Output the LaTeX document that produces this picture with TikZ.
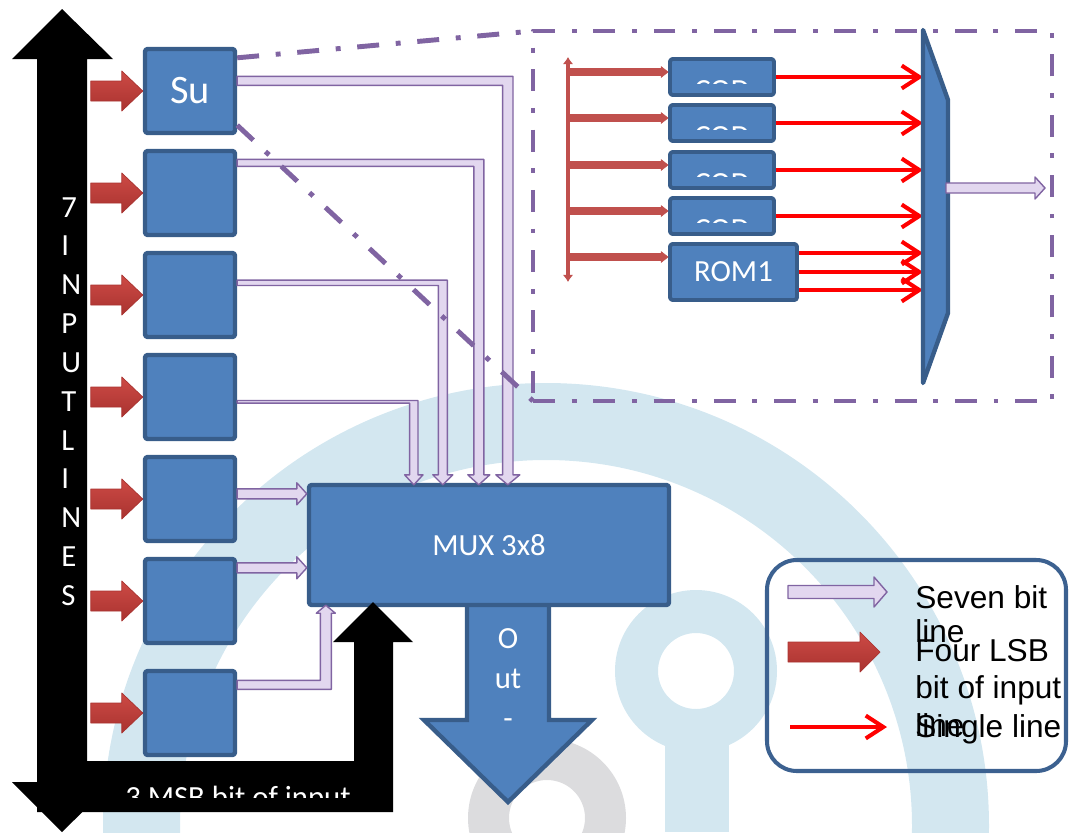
\documentclass[tikz,border=0pt]{standalone}
\usepackage{fontspec}
\setmainfont{Carlito}
\newfontfamily\legendfont{Liberation Sans}
\usetikzlibrary{arrows.meta,positioning,calc}
\definecolor{boxblue}{HTML}{4F81BD}
\definecolor{boxedge}{HTML}{385D8A}
\definecolor{lavfill}{HTML}{E2D7EF}
\definecolor{lavedge}{HTML}{8064A2}
\definecolor{redtop}{HTML}{CD4A45}
\definecolor{redbot}{HTML}{A93330}
\definecolor{busred}{HTML}{C0504D}
\definecolor{zoompurple}{HTML}{8064A2}
\definecolor{wmblue}{HTML}{D3E7F0}
\definecolor{wmgrey}{HTML}{DCDCDE}
\definecolor{legedge}{HTML}{3C6190}
\newdimen\pxu
\pxu=0.02cm
\pgfdeclarelayer{wm}
\pgfdeclarelayer{back}
\pgfsetlayers{wm,back,main}
% straight arrow to the right: style, start, tip, half shaft, half head, head length
\newcommand{\flatarrow}[6]{%
  \path[#1] ($(#2)+(0,-#4)$) -- ($(#3)+(-#6,-#4)$) -- ($(#3)+(-#6,-#5)$) -- (#3)
    -- ($(#3)+(-#6,#5)$) -- ($(#3)+(-#6,#4)$) -- ($(#2)+(0,#4)$) -- cycle;}
% right then down (1) or up (-1): style, start, tip, half horiz, half vert, half head, head length, dir
\newcommand{\bentarrow}[8]{%
  \path[#1] ($(#2)+(0,-#4)$)
    -- ($(#2 -| #3)+({(#8)*(#5)},-#4)$)
    -- ($(#3)+({(#8)*(#5)},{-1*(#8)*(#7)})$)
    -- ($(#3)+({(#8)*(#6)},{-1*(#8)*(#7)})$)
    -- (#3)
    -- ($(#3)+({-1*(#8)*(#6)},{-1*(#8)*(#7)})$)
    -- ($(#3)+({-1*(#8)*(#5)},{-1*(#8)*(#7)})$)
    -- ($(#2 -| #3)+({-1*(#8)*(#5)},#4)$)
    -- ($(#2)+(0,#4)$) -- cycle;}
% straight arrow downwards: style, start, tip, half shaft, half head, head length
\newcommand{\downblock}[6]{%
  \path[#1] ($(#2)+(-#4,0)$) -- ($(#3)+(-#4,-#6)$) -- ($(#3)+(-#5,-#6)$) -- (#3)
    -- ($(#3)+(#5,-#6)$) -- ($(#3)+(#4,-#6)$) -- ($(#2)+(#4,0)$) -- cycle;}

\begin{document}
\begin{tikzpicture}[x=0.02cm,y=-0.02cm,line join=round,
  cellbox/.style={draw=boxedge,fill=boxblue,line width=2.5pt,rounded corners=1.5pt,
    inner sep=0pt,minimum width=90*\pxu,minimum height=84*\pxu,text=white},
  codbox/.style={cellbox,line width=2.2pt,minimum width=104*\pxu,minimum height=36*\pxu},
  celltext/.style={text=white,font=\fontsize{17.5}{22}\selectfont},
  lavarrow/.style={fill=lavfill,draw=lavedge,line width=0.8pt},
  redblock/.style={top color=redtop,bottom color=redbot,draw=redbot,line width=0.4pt},
  busarrow/.style={fill=busred,draw=busred,line width=0.3pt},
  sigline/.style={draw=red,line width=2.3pt,-{Straight Barb[length=10pt,width=13pt]}},
  zoomline/.style={draw=zoompurple,line width=2.8pt,
    dash pattern=on 12.5pt off 9.5pt on 2.8pt off 9.5pt},
  zoomframe/.style={zoomline,minimum width=519*\pxu,minimum height=370*\pxu,
    inner sep=0pt,outer sep=0pt},
  trapmux/.style={fill=boxblue,draw=boxedge,line width=2.5pt},
  outarrow/.style={fill=boxblue,draw=boxedge,line width=2.5pt},
  legendbox/.style={draw=legedge,line width=2.3pt,rounded corners=17pt,
    minimum width=299*\pxu,minimum height=211*\pxu,inner sep=0pt,outer sep=0pt},
  legtext/.style={inner sep=0pt,align=left,anchor=north west,text=black},
]
\useasboundingbox (0,0) rectangle (1071,832);

% watermark
\begin{pgfonlayer}{wm}
\begin{scope}
\clip (0,0) rectangle (1071,832);
\fill[wmblue,even odd rule] (546,826) circle[radius=443] (546,826) circle[radius=366];
\fill[wmblue,even odd rule] (696,671) circle[radius=81] (696,671) circle[radius=38];
\fill[wmblue] (665,735) rectangle (729,832);
\fill[wmgrey,even odd rule] (547,818) circle[radius=79] (547,818) circle[radius=38];
\end{scope}
\end{pgfonlayer}

% input cells
\node[cellbox,font=\fontsize{23}{28}\selectfont] (b1) at (190,91) {Su};
\foreach \n/\y in {2/193,3/295,4/397,5/499,6/601,7/713}
  \node[cellbox] (b\n) at (190,\y) {};

% mux and output
\node[cellbox,minimum width=360*\pxu,minimum height=120*\pxu,
      font=\fontsize{17.5}{22}\selectfont] (mux) at (489,545) {MUX 3x8};
\coordinate (outtop) at ([xshift=19*\pxu,yshift=10*\pxu]mux.south);
\coordinate (outtip) at (508,802);
\begin{pgfonlayer}{back}
\downblock{outarrow}{outtop}{outtip}{41}{84}{82}
\end{pgfonlayer}
\node[celltext,align=center,anchor=north,inner sep=0pt,
      font=\fontsize{17.5}{22.7}\selectfont] (outlab) at (508,628) {O\\ut\\-};

% four lsb inputs
\foreach \n in {1,...,7}{
  \coordinate (r\n) at ([xshift=-52*\pxu]b\n.west);
  \flatarrow{redblock}{r\n}{b\n.west}{10}{20}{21}
}

% seven bit lines
\coordinate (s1) at ([yshift=-34*\pxu]b1.north east);
\coordinate (t1) at ([xshift=201*\pxu,yshift=-2*\pxu]mux.north west);
\coordinate (s2) at ([yshift=-14*\pxu]b2.north east);
\coordinate (t2) at ([xshift=172*\pxu,yshift=-2*\pxu]mux.north west);
\coordinate (s3) at ([yshift=-32*\pxu]b3.north east);
\coordinate (t3) at ([xshift=136*\pxu,yshift=-2*\pxu]mux.north west);
\coordinate (s4) at ([yshift=-49*\pxu]b4.north east);
\coordinate (t4) at ([xshift=107*\pxu,yshift=-2*\pxu]mux.north west);
\bentarrow{lavarrow}{s1}{t1}{4.5}{5.2}{12}{10}{1}
\bentarrow{lavarrow}{s2}{t2}{3.5}{5}{11}{10}{1}
\bentarrow{lavarrow}{s3}{t3}{2.7}{4.5}{10}{10}{1}
\bentarrow{lavarrow}{s4}{t4}{1.3}{4.2}{9.2}{10}{1}
\coordinate (s5) at ([yshift=-39*\pxu]b5.north east);
\coordinate (e5) at (mux.west |- s5);
\coordinate (s6) at ([yshift=-11*\pxu]b6.north east);
\coordinate (e6) at (mux.west |- s6);
\flatarrow{lavarrow}{s5}{e5}{5}{11}{10}
\flatarrow{lavarrow}{s6}{e6}{5}{11}{10}
\coordinate (s7) at ([yshift=-16*\pxu]b7.north east);
\coordinate (t7) at ([xshift=19*\pxu,yshift=2*\pxu]mux.south west);
\bentarrow{lavarrow}{s7}{t7}{4.5}{5.5}{9.5}{8}{-1}

% zoomed view of one cell
\node[zoomframe] (zbox) at (792.5,216) {};
\draw[zoomline] ([yshift=-11*\pxu]b1.north east) -- (zbox.north west);
\draw[zoomline] ([yshift=10*\pxu]b1.south east) -- (zbox.south west);

\coordinate (bustop) at (568,57);
\coordinate (busbot) at (568,282);
\draw[draw=busred,line width=1.8pt,
      {Latex[length=4pt,width=6pt]}-{Latex[length=4pt,width=6pt]}] (bustop) -- (busbot);
\foreach \n/\y in {1/77,2/123,3/170,4/216}{
  \node[codbox] (cod\n) at (722,\y) {};
  \begin{scope}
    \clip ([yshift=-4*\pxu]cod\n.north west) rectangle ([yshift=-26*\pxu]cod\n.north east);
    \node[celltext] at ([yshift=-14*\pxu]cod\n.center) {COD};
  \end{scope}
}
\node[codbox,minimum width=127*\pxu,minimum height=56*\pxu,
      font=\fontsize{17.5}{22}\selectfont] (rom) at (733.5,272) {ROM1};

\foreach \n in {1,...,4}{
  \coordinate (ci\n) at ([yshift=5*\pxu]cod\n.west);
  \coordinate (bi\n) at (bustop |- ci\n);
  \flatarrow{busarrow}{bi\n}{ci\n}{3.5}{5.5}{7}
}
\coordinate (ci5) at ([yshift=15*\pxu]rom.west);
\coordinate (bi5) at (bustop |- ci5);
\flatarrow{busarrow}{bi5}{ci5}{3.5}{5.5}{7}

\coordinate (tq1) at (923,30);
\coordinate (tq2) at (948,100);
\coordinate (tq3) at (948,313);
\coordinate (tq4) at (923,383);
\foreach \n in {1,...,4}
  \draw[sigline] (cod\n.east) -- (tq1 |- cod\n.east);
\coordinate (ro1) at ([yshift=19*\pxu]rom.east);
\coordinate (ro2) at (rom.east);
\coordinate (ro3) at ([yshift=-18*\pxu]rom.east);
\foreach \n in {1,2,3}
  \draw[sigline] (ro\n) -- (tq1 |- ro\n);
\path[trapmux] (tq1) -- (tq2) -- (tq3) -- (tq4) -- cycle;
\coordinate (tout) at (946,188);
\coordinate (tend) at (1045,188);
\flatarrow{lavarrow}{tout}{tend}{5}{11}{10}

% black buses
\fill[black] (62,9) -- (113,59) -- (87,59) -- (87,782) -- (113,782) -- (62,832)
  -- (12,782) -- (37,782) -- (37,59) -- (12,59) -- cycle;
\fill[black] (37,761) -- (354,761) -- (354,642) -- (333,642) -- (373,602)
  -- (413,642) -- (393,642) -- (393,812) -- (37,812) -- cycle;
\node[celltext,align=left,anchor=north west,inner sep=0pt,
      font=\fontsize{17.5}{22.1}\selectfont] (inlab) at (61,197)
  {7\\I\\N\\P\\U\\T\\L\\I\\N\\E\\S};
\begin{scope}
  \clip (0,0) rectangle (1071,797);
  \node[celltext,anchor=base] (msb) at (238,807) {3 MSB bit of input};
\end{scope}

% legend
\node[legendbox] (leg) at (916.5,665.5) {};
\coordinate (k1a) at (788,592);
\coordinate (k1b) at (887,592);
\flatarrow{lavarrow}{k1a}{k1b}{6.5}{15}{13}
\coordinate (k2a) at (788,652);
\coordinate (k2b) at (880,652);
\flatarrow{redblock}{k2a}{k2b}{10}{20}{20}
\coordinate (k3a) at (790,727);
\coordinate (k3b) at (887,727);
\draw[sigline] (k3a) -- (k3b);
\node[legtext,font=\legendfont\fontsize{18}{19.3}\selectfont] (lg1) at (915,585)
  {Seven bit\\line};
\node[legtext,font=\legendfont\fontsize{18}{21.3}\selectfont] (lg2) at (915,639)
  {Four LSB\\bit of input\\line};
\node[legtext,font=\legendfont\fontsize{18}{21.3}\selectfont] (lg3) at (915,714)
  {Single line};
\end{tikzpicture}
\end{document}
